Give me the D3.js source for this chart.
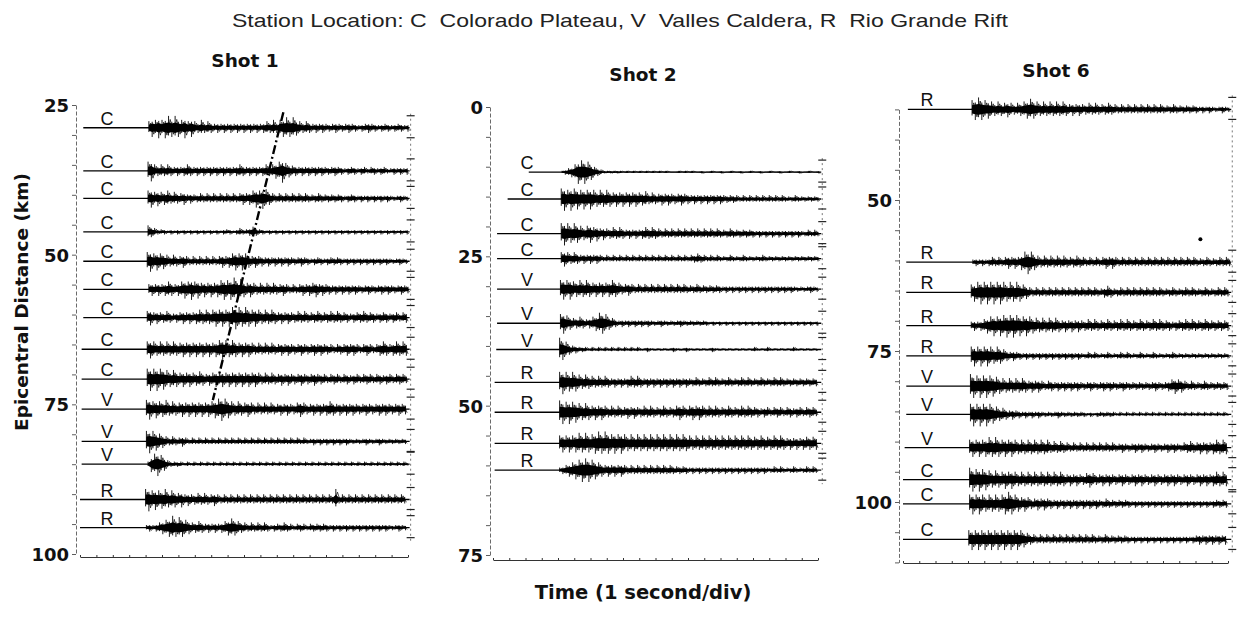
<!DOCTYPE html>
<html>
<head>
<meta charset="utf-8">
<script src="https://cdn.jsdelivr.net/npm/d3@7.9.0/dist/d3.min.js"></script>
<style>
  body { margin: 0; background: #fff; }
  svg text { font-family: "Liberation Sans", Arial, Helvetica, sans-serif; fill: #111; }
  .bold { font-family: "DejaVu Sans", Verdana, sans-serif !important; font-weight: bold; }
</style>
</head>
<body>
<svg id="chart" width="1239" height="618"></svg>
<script>
// ---- data ----
// envelope amplitudes: one digit per 0.2 s from onset, unit = 0.22 km of the distance axis
const timeTicks = d3.range(0, 21);
const sampleStep = 0.2;
const ampUnit = 0.22;

const shot1Dist  = [28.8, 36.0, 40.6, 46.2, 51.1, 55.8, 60.5, 65.8, 70.8, 75.8, 81.2, 85.0, 90.9, 95.6];
const shot1Sta   = ['C', 'C', 'C', 'C', 'C', 'C', 'C', 'C', 'C', 'V', 'V', 'V', 'R', 'R'];
const shot1Start = [0.2, 0.2, 0.2, 0.2, 0.2, 0.2, 0.2, 0.1, 0.1, 0.1, 0.1, 0.1, 0.0, 0.0];
const shot1Onset = [4.2, 4.15, 4.15, 4.15, 4.1, 4.2, 4.1, 4.1, 4.1, 4.05, 4.05, 4.15, 4.0, 4.05];
const shot1End   = 20.1;
const shot1Amp = [
  '57686 89797 68575 46454 34343 43434 34343 45464 67878 65454 34343 33433 34332 33433 23332 33323',
  '78545 45434 34543 43434 34343 43454 34343 45456 79654 43434 34343 33433 23332 33233 23322 32323',
  '67565 56454 45343 34343 43434 34345 45676 87543 43434 34343 33433 33333 23332 32323 23232 22322',
  '54322 21212 12121 21212 12122 21232 23432 21212 12121 21212 12121 21212 12121 21212 12121 21212',
  '78676 65454 45434 34343 43454 56767 65454 43434 34343 33433 23332 33333 23232 32323 23232 22322',
  '45454 56545 67686 75656 56787 89786 56545 45454 45434 34545 56454 43434 34343 33433 34343 33433',
  '56454 45434 45454 56565 67676 78987 87676 56565 45454 45454 44544 45454 44344 45444 34443 44344',
  '67656 56565 56565 65656 56787 67656 56545 45454 45454 44544 45454 44344 45454 34543 45654 56565',
  '89898 87676 56565 56545 56565 65656 56565 45454 45454 44544 45444 34443 44344 34443 44344 34443',
  '78676 67565 56565 65656 67898 76565 56545 45454 45454 45654 45454 56545 45454 44544 45454 44544',
  '89876 54343 34323 23232 32323 23232 32323 23232 32323 23232 23232 32323 23222 22322 23222 22222',
  '26897 53222 21212 12121 21212 12121 21212 12121 21212 12121 21212 12121 21212 12121 21212 12121',
  '89787 78676 56454 45454 45434 34343 43434 34343 43434 34343 43434 34383 43434 34343 43434 34343',
  '23234 56797 87654 45434 34345 67654 43434 34323 33433 23332 33333 32323 23232 32323 23232 22322'
];
// dash-dot phase line drawn across the Shot 1 record section
const shot1PickTime = [12.4, 8.1];
const shot1PickDist = [26.2, 74.3];

const shot2Dist  = [10.9, 15.4, 21.2, 25.4, 30.5, 36.2, 40.6, 46.1, 51.1, 56.3, 60.8];
const shot2Sta   = ['C', 'C', 'C', 'C', 'V', 'V', 'V', 'R', 'R', 'R', 'R'];
const shot2Start = [2.2, 0.9, 0.25, 0.25, 0.25, 0.25, 0.2, 0.1, 0.1, 0.1, 0.1];
const shot2Onset = [4.25, 4.2, 4.2, 4.2, 4.15, 4.15, 4.1, 4.1, 4.1, 4.1, 4.1];
const shot2End   = 20.2;
const shot2Amp = [
  '12346 99986 43211 11110 10101 01010 10100 01010 10010 01001 00100 10010 01001 00100 10010 01001',
  '89798 87878 76767 65656 56565 56454 45454 44544 34343 43434 33333 23232 32323 23232 22322 22222',
  '89878 76567 56454 45454 34343 45454 43434 34343 43434 34343 33433 33333 23232 32323 23232 23232',
  '56545 43434 34323 23232 32323 23232 32323 23232 33433 23232 22322 23222 22322 22222 22222 22222',
  '78786 67676 56565 67654 45434 34343 43434 34343 33433 33333 23232 32323 23232 32323 23222 22322',
  '78654 45434 56887 54323 23232 32322 23222 22322 22222 21212 12121 21212 12121 21212 12121 21212',
  '98643 32221 21212 12121 21212 11211 11111 21112 11111 11211 11111 11111 21112 11111 11211 11111',
  '89878 76565 54545 43434 34545 43434 34343 43434 33433 34343 33433 34343 33433 34343 33333 33333',
  '99898 87676 56565 45454 45454 45454 44544 45654 56565 45454 44544 45454 44344 34443 44344 34443',
  '67676 78787 78989 87878 76767 67676 76767 67676 65656 56565 65656 56565 55655 56565 45454 55555',
  '23456 78999 87654 54545 43434 34343 43434 33333 23232 32323 23232 32323 23232 23232 22322 23232'
];

const shot6Dist  = [35.0, 60.3, 65.3, 70.8, 75.8, 80.8, 85.5, 91.0, 96.3, 100.3, 106.2];
const shot6Sta   = ['R', 'R', 'R', 'R', 'R', 'V', 'V', 'V', 'C', 'C', 'C'];
const shot6Start = [0.3, 0.2, 0.2, 0.2, 0.2, 0.2, 0.2, 0.1, 0.0, 0.0, 0.0];
const shot6Onset = [4.25, 4.3, 4.2, 4.2, 4.2, 4.15, 4.15, 4.1, 4.1, 4.1, 4.05];
const shot6End   = 20.2;
const shot6Amp = [
  '78987 76565 56545 56787 65656 56565 45454 45454 44544 34343 43434 34343 33433 33333 23232 22322',
  '23232 34343 45454 68986 54545 45454 44544 34343 45454 34343 43434 34343 43434 34343 33433 34343',
  '67898 98989 87878 76543 43434 34343 43434 34343 34543 34343 43434 34343 33433 34343 33433 34343',
  '34345 67878 89898 87876 65656 56545 45454 45454 44544 45454 44544 45454 44344 45454 44544 44444',
  '78787 87676 54343 32323 23232 32323 23232 23232 22322 23232 22322 23222 22322 22222 22222 22222',
  '99898 98876 65656 56545 45434 43434 34343 33433 34343 33433 33333 33433 34565 54343 33433 33333',
  '89898 98765 54343 32323 23222 22322 22222 21212 22222 12121 21212 12121 21212 12121 21212 12121',
  '67676 78787 67676 56565 65656 45454 43434 34343 43434 33433 34343 33433 34343 34454 45454 56565',
  '99898 87676 67676 56565 65656 56565 45454 45654 45454 44544 45454 44544 45454 44544 45454 56565',
  '78787 67676 78987 65654 45454 43434 34343 43434 33433 33333 23232 32323 23232 32323 23232 33333',
  '78787 87878 78787 87654 43434 34343 43434 34343 33433 33333 23232 32323 23232 32323 34343 43434'
];
// isolated dot on the Shot 6 section
const shot6DotTime = 18.3;
const shot6DotDist = 56.5;

// ---- layout ----
const svg = d3.select('#chart');

const panels = [
  { title: 'Shot 1', titleX: 245, titleY: 67, axisX: 76, x0: 80, x1: 408, yDomain: [25, 100], yRange: [105, 554], bottomY: 557,
    labelX: 107, dist: shot1Dist, sta: shot1Sta, start: shot1Start, onset: shot1Onset, end: shot1End, amp: shot1Amp },
  { title: 'Shot 2', titleX: 643, titleY: 81, axisX: 490, x0: 493, x1: 818, yDomain: [0, 75], yRange: [107, 555], bottomY: 560,
    labelX: 527, dist: shot2Dist, sta: shot2Sta, start: shot2Start, onset: shot2Onset, end: shot2End, amp: shot2Amp },
  { title: 'Shot 6', titleX: 1056, titleY: 77, axisX: 899, x0: 903, x1: 1228, yDomain: [35, 110], yRange: [109.4, 562.4], bottomY: 563,
    labelX: 927, dist: shot6Dist, sta: shot6Sta, start: shot6Start, onset: shot6Onset, end: shot6End, amp: shot6Amp }
];

svg.append('text')
  .attr('x', 620).attr('y', 27)
  .attr('text-anchor', 'middle')
  .attr('font-size', 19)
  .attr('textLength', 776)
  .attr('lengthAdjust', 'spacingAndGlyphs')
  .style('fill', '#222')
  .style('white-space', 'pre')
  .text('Station Location: C  Colorado Plateau, V  Valles Caldera, R  Rio Grande Rift');

svg.append('text')
  .attr('class', 'bold')
  .attr('transform', 'translate(28,302) rotate(-90)')
  .attr('text-anchor', 'middle')
  .attr('font-size', 18.5)
  .text('Epicentral Distance (km)');

svg.append('text')
  .attr('class', 'bold')
  .attr('x', 643).attr('y', 599)
  .attr('text-anchor', 'middle')
  .attr('font-size', 19.5)
  .text('Time (1 second/div)');

function drawPanel(p) {
  const x = d3.scaleLinear().domain([0, 20]).range([p.x0, p.x1]);
  const y = d3.scaleLinear().domain(p.yDomain).range(p.yRange);
  const g = svg.append('g');

  g.append('text')
    .attr('class', 'bold')
    .attr('x', p.titleX).attr('y', p.titleY)
    .attr('text-anchor', 'middle')
    .attr('font-size', 18.5)
    .text(p.title);

  // distance axis, ticks every 5 km, labels every 25
  const yAxis = d3.axisLeft(y)
    .tickValues(d3.range(p.yDomain[0], p.yDomain[1] + 0.1, 5))
    .tickSize(4)
    .tickSizeOuter(0)
    .tickFormat(v => (v % 25 === 0 ? v : ''));
  const ya = g.append('g').attr('transform', `translate(${p.axisX},0)`).call(yAxis);
  ya.select('.domain').attr('stroke', '#444').attr('stroke-dasharray', '4,2').attr('stroke-width', 0.8);
  ya.selectAll('.tick line').attr('stroke', '#333').attr('stroke-width', 0.8);
  ya.selectAll('.tick text')
    .attr('class', 'bold')
    .attr('font-size', 18)
    .attr('x', -7).attr('dy', '0.36em');

  // time axis, 1 second per division
  const xAxis = d3.axisBottom(x).tickValues(timeTicks).tickSize(-2).tickSizeOuter(0).tickFormat('');
  const xa = g.append('g').attr('transform', `translate(0,${p.bottomY})`).call(xAxis);
  xa.select('.domain').attr('stroke', '#333').attr('stroke-width', 1);
  xa.selectAll('.tick line').attr('stroke', '#333');

  // right-hand amplitude markers
  const top = y(d3.min(p.dist)) - 14, bot = y(d3.max(p.dist)) + 14;
  const xr = x(p.end) + 1;
  g.append('line')
    .attr('x1', xr).attr('x2', xr).attr('y1', top).attr('y2', bot)
    .attr('stroke', '#555').attr('stroke-width', 0.8).attr('stroke-dasharray', '2,3');
  p.dist.forEach(d => {
    [-12, 10].forEach(off => {
      g.append('line')
        .attr('x1', xr - 4).attr('x2', xr + 4)
        .attr('y1', y(d) + off).attr('y2', y(d) + off)
        .attr('stroke', '#222').attr('stroke-width', 1.2);
    });
  });

  const zig = d3.line();
  const core = d3.area().x(s => x(s.t)).y0(s => y(s.d - s.a * ampUnit * 0.45)).y1(s => y(s.d + s.a * ampUnit * 0.45));
  p.dist.forEach((d, k) => {
    const amps = p.amp[k].replace(/\s/g, '').split('').map(Number);
    const samples = amps
      .map((a, i) => ({ t: p.onset[k] + i * sampleStep, a, d, i }))
      .filter(s => s.t <= p.end);

    // flat baseline
    g.append('line')
      .attr('x1', x(p.start[k])).attr('x2', x(p.end))
      .attr('y1', y(d)).attr('y2', y(d))
      .attr('stroke', '#000').attr('stroke-width', 1.3);

    // dense core of the record
    g.append('path')
      .attr('d', core(samples))
      .attr('fill', '#000');

    // vertical excursions, leaning up and down in turn
    g.append('path')
      .attr('d', samples.map(s => {
        const up = s.i % 2 ? 0.65 : 1, dn = s.i % 2 ? 1 : 0.65;
        return `M${x(s.t)},${y(d - s.a * ampUnit * up)}V${y(d + s.a * ampUnit * dn)}`;
      }).join(''))
      .attr('stroke', '#000')
      .attr('stroke-width', 0.9);

    // wiggle
    const pts = [[x(p.onset[k]), y(d)]].concat(
      samples.map(s => [x(s.t + sampleStep / 2), y(d + (s.i % 2 ? 0.7 : -0.7) * s.a * ampUnit)]));
    g.append('path')
      .attr('d', zig(pts))
      .attr('fill', 'none')
      .attr('stroke', '#000')
      .attr('stroke-width', 0.7);

    g.append('text')
      .attr('x', p.labelX).attr('y', y(d) - 3)
      .attr('text-anchor', 'middle')
      .attr('font-size', 18)
      .text(p.sta[k]);
  });

  return { x, y, g };
}

const s1 = drawPanel(panels[0]);
drawPanel(panels[1]);
const s6 = drawPanel(panels[2]);

s1.g.append('path')
  .attr('d', d3.line()(shot1PickTime.map((t, i) => [s1.x(t), s1.y(shot1PickDist[i])])))
  .attr('stroke', '#000')
  .attr('stroke-width', 2.4)
  .attr('stroke-dasharray', '9,3,2,3')
  .attr('fill', 'none');

s6.g.append('circle')
  .attr('cx', s6.x(shot6DotTime)).attr('cy', s6.y(shot6DotDist))
  .attr('r', 2).attr('fill', '#000');
</script>
</body>
</html>
